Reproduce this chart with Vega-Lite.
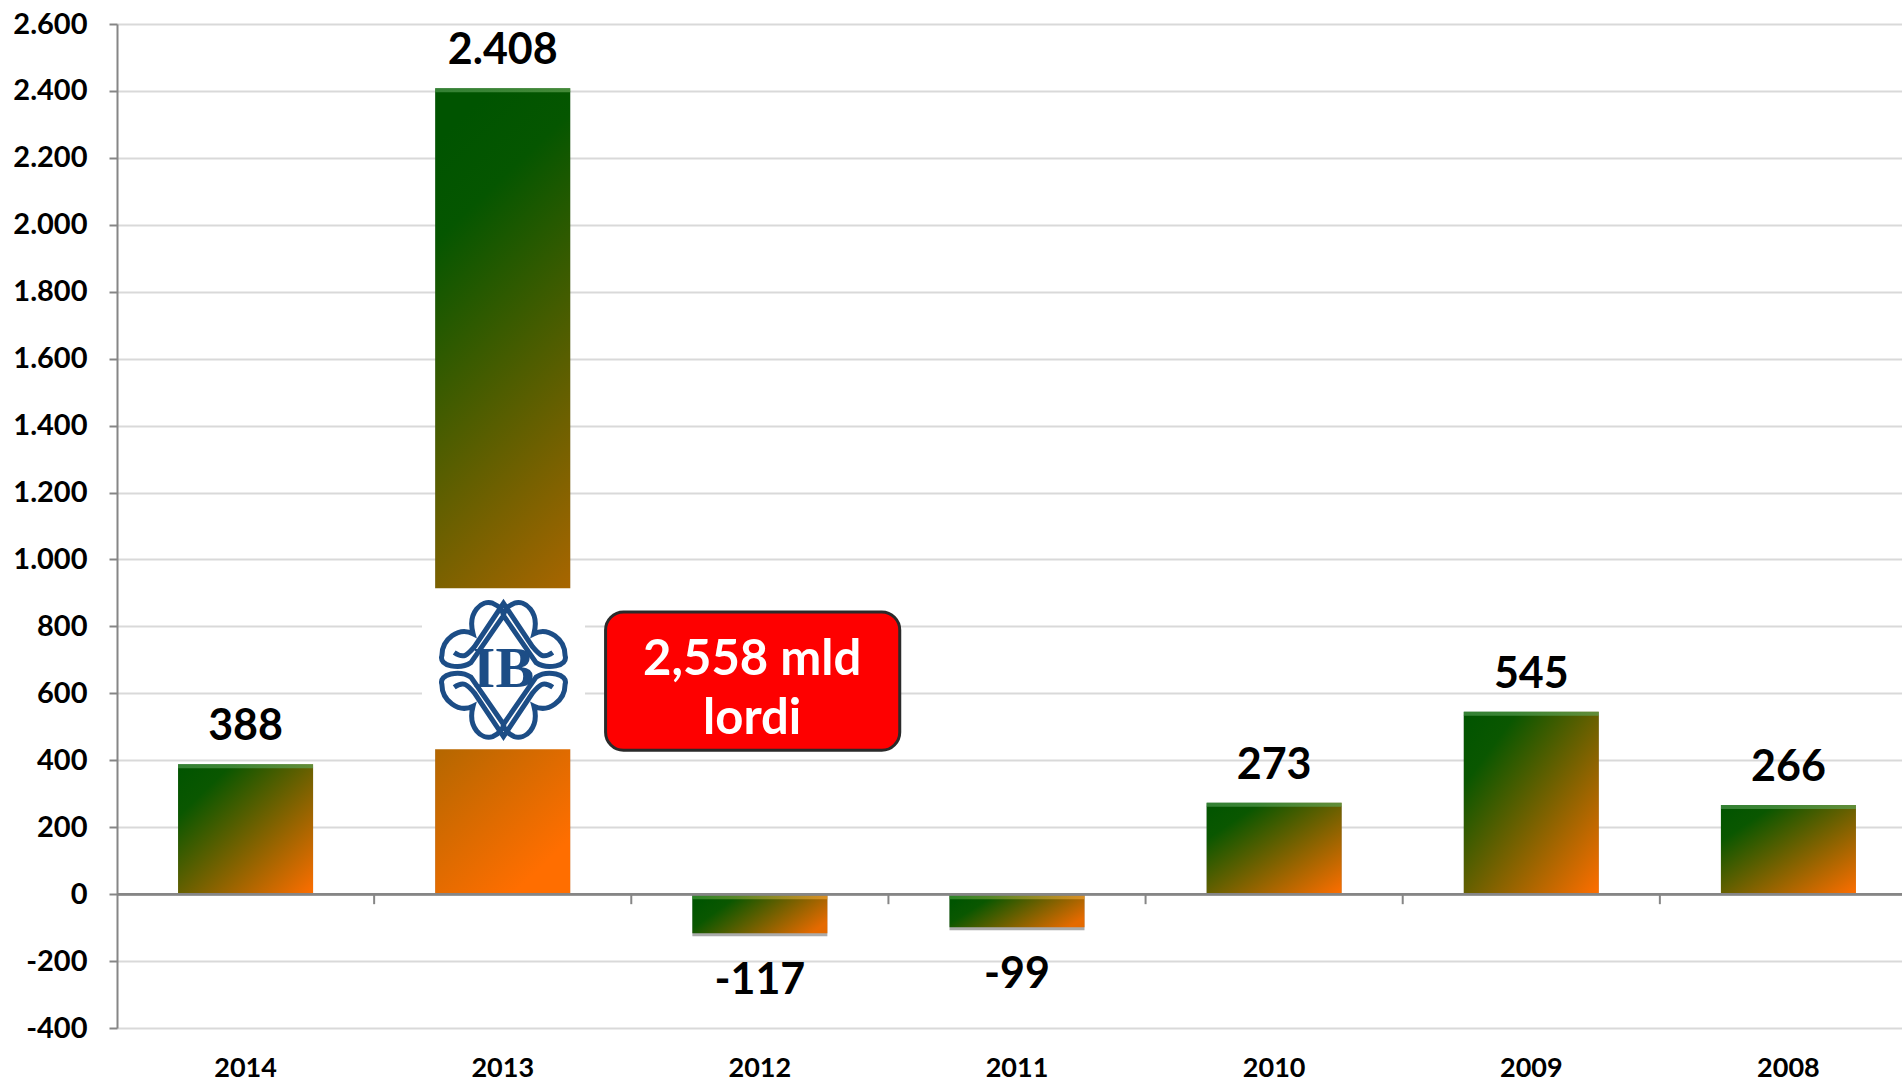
{
"$schema":"https://vega.github.io/schema/vega-lite/v6.json",
"width":1785,"height":1004,
"autosize":{"type":"none"},
"padding":{"left":117,"top":24,"right":0,"bottom":54},
"background":"white",
"config":{"view":{"stroke":null}},
"datasets":{
"bars":[
{"year":"2014","value":388,"label":"388"},
{"year":"2013","value":2408,"label":"2.408"},
{"year":"2012","value":-117,"label":"-117"},
{"year":"2011","value":-99,"label":"-99"},
{"year":"2010","value":273,"label":"273"},
{"year":"2009","value":545,"label":"545"},
{"year":"2008","value":266,"label":"266"}],
"seps":[{"b":1},{"b":2},{"b":3},{"b":4},{"b":5},{"b":6}],
"logoBox":[{"x0":1.186,"x1":1.82,"y0":433,"y1":914}],
"logo":[{"x":1.503,"y":670}],
"callout":[{"x0":1.9,"x1":3.044,"y0":430,"y1":843}],
"calloutText":[{"x":2.47,"y":701,"t":"2,558 mld"},{"x":2.47,"y":524,"t":"lordi"}],
"logoText":[{"x":1.503,"y":670,"t":"IB"}]
},
"encoding":{"y":{"type":"quantitative","scale":{"domain":[-400,2600],"nice":false,"zero":false}}},
"resolve":{"scale":{"x":"independent"}},
"layer":[
{"data":{"name":"bars"},
 "layer":[
 {"mark":{"type":"bar","color":"#444444","opacity":0.45,"yOffset":3,"width":135},
  "encoding":{"y":{"field":"value","type":"quantitative","axis":{"values":[-400,-200,0,200,400,600,800,1000,1200,1400,1600,1800,2000,2200,2400,2600],"title":null,"labelExpr":"replace(replace(format(datum.value,','),',','.'),'−','-')","labelFont":"Lato","labelFontWeight":"bold","labelFontSize":29,"labelColor":"#000000","labelPadding":22,"domainColor":"#868686","domainWidth":2,"tickColor":"#868686","tickWidth":2,"tickSize":8,"gridColor":"#d9d9d9","gridWidth":2,"grid":true}},
   "y2":{"datum":0},
   "x":{"field":"year","type":"nominal","sort":null,"scale":{"type":"band","range":[0,1800],"paddingInner":0.475,"paddingOuter":0.2375},"axis":{"title":null,"labelAngle":0,"labelFont":"Lato","labelFontWeight":"bold","labelFontSize":27,"labelColor":"#000000","labelPadding":27,"ticks":false,"domain":false,"grid":false}}}},
 {"transform":[{"filter":"datum.value>0 && datum.value<2000"}],
  "mark":{"type":"bar","width":135,"color":{"gradient":"linear","x1":0,"y1":0,"x2":1,"y2":1,"stops":[{"offset":0,"color":"#005400"},{"offset":0.2,"color":"#0a5700"},{"offset":1,"color":"#ff6e00"}]}},
  "encoding":{"y":{"field":"value","type":"quantitative"},"y2":{"datum":0},"x":{"field":"year","type":"nominal","sort":null}}},
 {"transform":[{"filter":"datum.value>=2000"}],
  "mark":{"type":"bar","width":135,"color":{"gradient":"linear","x1":0.42,"y1":0,"x2":0.58,"y2":1,"stops":[{"offset":0,"color":"#005400"},{"offset":0.12,"color":"#055600"},{"offset":1,"color":"#ff6e00"}]}},
  "encoding":{"y":{"field":"value","type":"quantitative"},"y2":{"datum":0},"x":{"field":"year","type":"nominal","sort":null}}},
 {"transform":[{"filter":"datum.value<0"}],
  "mark":{"type":"bar","width":135,"color":{"gradient":"linear","x1":0,"y1":0.3,"x2":1,"y2":0.7,"stops":[{"offset":0,"color":"#005400"},{"offset":0.2,"color":"#0a5700"},{"offset":1,"color":"#e56a00"}]}},
  "encoding":{"y":{"field":"value","type":"quantitative"},"y2":{"datum":0},"x":{"field":"year","type":"nominal","sort":null}}},
 {"transform":[{"filter":"datum.value>0"}],
  "mark":{"type":"tick","size":135,"thickness":4,"yOffset":2,"color":{"gradient":"linear","x1":0,"y1":0,"x2":1,"y2":0,"stops":[{"offset":0,"color":"#4a944a"},{"offset":1,"color":"#5fa050"}]}},
  "encoding":{"y":{"field":"value","type":"quantitative"},"x":{"field":"year","type":"nominal","sort":null}}},
 {"transform":[{"filter":"datum.value<0"}],
  "mark":{"type":"tick","size":135,"thickness":4,"yOffset":3,"color":{"gradient":"linear","x1":0,"y1":0,"x2":1,"y2":0,"stops":[{"offset":0,"color":"#3f9a3a"},{"offset":1,"color":"#f0a030"}]}},
  "encoding":{"y":{"datum":0},"x":{"field":"year","type":"nominal","sort":null}}},
 {"transform":[{"filter":"datum.value>0"}],
  "mark":{"type":"text","font":"Lato","fontWeight":"bold","fontSize":43,"color":"#000000","baseline":"middle","dy":-37,"align":"center"},
  "encoding":{"y":{"field":"value","type":"quantitative"},"x":{"field":"year","type":"nominal","sort":null},"text":{"field":"label"}}},
 {"transform":[{"filter":"datum.value<0"}],
  "mark":{"type":"text","font":"Lato","fontWeight":"bold","fontSize":43,"color":"#000000","baseline":"middle","dy":48,"align":"center"},
  "encoding":{"y":{"field":"value","type":"quantitative"},"x":{"field":"year","type":"nominal","sort":null},"text":{"field":"label"}}}
 ]},
{"data":{"name":"seps"},"mark":{"type":"rule","color":"#868686","strokeWidth":2},
 "encoding":{"x":{"field":"b","type":"quantitative","scale":{"domain":[0,7],"range":[0,1800],"nice":false},"axis":null},"y":{"datum":0},"y2":{"datum":-30}}},
{"data":{"name":"seps"},"mark":{"type":"rule","color":"#868686","strokeWidth":2},
 "encoding":{"x":{"datum":0,"type":"quantitative","scale":{"domain":[0,7],"range":[0,1800],"nice":false},"axis":null},"x2":{"datum":7},"y":{"datum":0}}},
{"data":{"name":"logoBox"},"mark":{"type":"rect","color":"#ffffff"},
 "encoding":{"x":{"field":"x0","type":"quantitative","scale":{"domain":[0,7],"range":[0,1800],"nice":false},"axis":null},"x2":{"field":"x1"},"y":{"field":"y0","type":"quantitative"},"y2":{"field":"y1"}}},
{"data":{"name":"logo"},"mark":{"type":"point","filled":false,"stroke":"#1c4d86","strokeWidth":5,"opacity":1,"size":21000,
  "shape":"M-0.85,-0.2C-0.9,-0.05,-0.6,0,-0.45,-0.1L0,-0.75L0.45,-0.1C0.6,0,0.9,-0.05,0.85,-0.2C0.85,-0.42,0.62,-0.6,0.42,-0.5C0.5,-0.8,0.3,-0.97,0.15,-0.92C0.05,-0.88,0,-0.8,0,-0.75C0,-0.8,-0.05,-0.88,-0.15,-0.92C-0.3,-0.97,-0.5,-0.8,-0.42,-0.5C-0.62,-0.6,-0.85,-0.42,-0.85,-0.2ZM-0.68,-0.24C-0.55,-0.15,-0.5,-0.2,-0.4,-0.32L0,-0.92L0.4,-0.32C0.5,-0.2,0.55,-0.15,0.68,-0.24M-0.85,0.2C-0.9,0.05,-0.6,0,-0.45,0.1L0,0.75L0.45,0.1C0.6,0,0.9,0.05,0.85,0.2C0.85,0.42,0.62,0.6,0.42,0.5C0.5,0.8,0.3,0.97,0.15,0.92C0.05,0.88,0,0.8,0,0.75C0,0.8,-0.05,0.88,-0.15,0.92C-0.3,0.97,-0.5,0.8,-0.42,0.5C-0.62,0.6,-0.85,0.42,-0.85,0.2ZM-0.68,0.24C-0.55,0.15,-0.5,0.2,-0.4,0.32L0,0.92L0.4,0.32C0.5,0.2,0.55,0.15,0.68,0.24"},
 "encoding":{"x":{"field":"x","type":"quantitative","scale":{"domain":[0,7],"range":[0,1800],"nice":false},"axis":null},"y":{"field":"y","type":"quantitative"}}},
{"data":{"name":"logoText"},"mark":{"type":"text","font":"Liberation Serif","fontWeight":"bold","fontSize":58,"color":"#1c4d86","baseline":"middle","align":"center"},
 "encoding":{"x":{"field":"x","type":"quantitative","scale":{"domain":[0,7],"range":[0,1800],"nice":false},"axis":null},"y":{"field":"y","type":"quantitative"},"text":{"field":"t"}}},
{"data":{"name":"callout"},"mark":{"type":"rect","color":"#fe0000","stroke":"#2a2a2a","strokeWidth":3,"cornerRadius":18},
 "encoding":{"x":{"field":"x0","type":"quantitative","scale":{"domain":[0,7],"range":[0,1800],"nice":false},"axis":null},"x2":{"field":"x1"},"y":{"field":"y0","type":"quantitative"},"y2":{"field":"y1"}}},
{"data":{"name":"calloutText"},"mark":{"type":"text","font":"Lato","fontWeight":"bold","fontSize":49,"color":"#ffffff","baseline":"middle","align":"center"},
 "encoding":{"x":{"field":"x","type":"quantitative","scale":{"domain":[0,7],"range":[0,1800],"nice":false},"axis":null},"y":{"field":"y","type":"quantitative"},"text":{"field":"t"}}}
]
}
